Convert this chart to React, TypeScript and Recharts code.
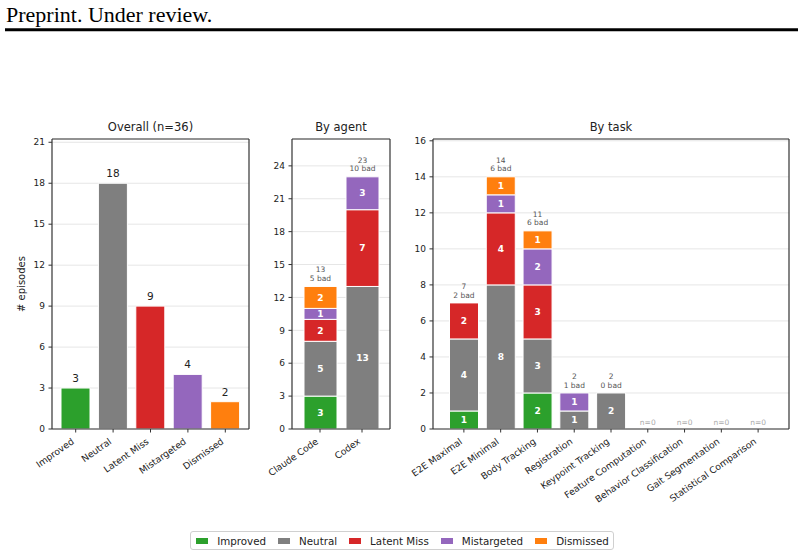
import React from 'react';
import { BarChart, Bar, XAxis, YAxis, CartesianGrid, LabelList, Cell, Legend } from 'recharts';

const FONT = '"DejaVu Sans", sans-serif';

const outcomes = ['Improved', 'Neutral', 'Latent Miss', 'Mistargeted', 'Dismissed'];
const outcomeKeys = ['improved', 'neutral', 'latent', 'mistargeted', 'dismissed'];
const outcomeColors = ['#2ca02c', '#7f7f7f', '#d62728', '#9467bd', '#ff7f0e'];

// overall counts, in outcome order
const overallCounts = [3, 18, 9, 4, 2];
const overallTicks = [0, 3, 6, 9, 12, 15, 18, 21];

const agents = ['Claude Code', 'Codex'];
const agentImproved = [3, 0];
const agentNeutral = [5, 13];
const agentLatent = [2, 7];
const agentMistargeted = [1, 3];
const agentDismissed = [2, 0];
const agentTicks = [0, 3, 6, 9, 12, 15, 18, 21, 24];

const tasks = [
  'E2E Maximal',
  'E2E Minimal',
  'Body Tracking',
  'Registration',
  'Keypoint Tracking',
  'Feature Computation',
  'Behavior Classification',
  'Gait Segmentation',
  'Statistical Comparison',
];
const taskImproved = [1, 0, 2, 0, 0, 0, 0, 0, 0];
const taskNeutral = [4, 8, 3, 1, 2, 0, 0, 0, 0];
const taskLatent = [2, 4, 3, 0, 0, 0, 0, 0, 0];
const taskMistargeted = [0, 1, 2, 1, 0, 0, 0, 0, 0];
const taskDismissed = [0, 1, 1, 0, 0, 0, 0, 0, 0];
const taskTicks = [0, 2, 4, 6, 8, 10, 12, 14, 16];

const overallRows = outcomes.map((name, i) => ({ name, value: overallCounts[i], total: overallCounts[i] }));

const buildRows = (names: string[], series: number[][]) =>
  names.map((name, i) => {
    const row: any = { name };
    outcomeKeys.forEach((k, j) => {
      row[k] = series[j][i];
    });
    row.total = series.reduce((s, arr) => s + arr[i], 0);
    row.bad = series[2][i] + series[3][i] + series[4][i];
    // topmost non-empty segment carries the total label
    row.topKey = [...outcomeKeys].reverse().find((k) => row[k] > 0) || '';
    return row;
  });

const agentRows = buildRows(agents, [agentImproved, agentNeutral, agentLatent, agentMistargeted, agentDismissed]);
const taskRows = buildRows(tasks, [taskImproved, taskNeutral, taskLatent, taskMistargeted, taskDismissed]);

const axisStroke = { stroke: '#333', strokeWidth: 1.2 };
const tickStroke = { stroke: '#333', strokeWidth: 1 };

const box = (props: any) => {
  const vb = props.viewBox && props.viewBox.x != null ? props.viewBox : props;
  return { x: Number(vb.x), y: Number(vb.y), width: Number(vb.width), height: Number(vb.height) };
};

const makeSlantTick = (rows: any[], showEmpty: boolean) => (props: any) => {
  const { x, y, payload } = props;
  const ax = Number(x) - 1;
  const ay = Number(y) + 8.5;
  const row = rows[payload.index];
  return (
    <g>
      {showEmpty && row && row.total === 0 && (
        <text x={Number(x)} y={Number(y) - 10} textAnchor="middle" fontSize={7.5} fill="#aaa" fontFamily={FONT}>
          n=0
        </text>
      )}
      <text
        x={ax}
        y={ay}
        transform={`rotate(-35, ${ax}, ${ay})`}
        textAnchor="end"
        fontSize={9.2}
        fill="#222"
        fontFamily={FONT}
      >
        {payload.value}
      </text>
    </g>
  );
};

const TotalLabel = (props: any) => {
  if (props.value == null || props.value === '') return null;
  const b = box(props);
  const cx = b.x + b.width / 2;
  const top = Math.min(b.y, b.y + b.height);
  const [total, bad] = String(props.value).split('|');
  return (
    <g fontSize={7.5} fill="#555" fontFamily={FONT} textAnchor="middle">
      <text x={cx} y={top - 14}>{total}</text>
      <text x={cx} y={top - 5.4}>{bad} bad</text>
    </g>
  );
};

const YTitle = (props: any) => {
  const vb = props.viewBox;
  const cx = vb.x + 21;
  const cy = vb.y + vb.height / 2;
  return (
    <text
      x={cx}
      y={cy}
      transform={`rotate(-90, ${cx}, ${cy})`}
      textAnchor="middle"
      dominantBaseline="central"
      fontSize={10}
      fill="#222"
      fontFamily={FONT}
    >
      # episodes
    </text>
  );
};

const LegendBox = () => (
  <div
    style={{
      position: 'absolute',
      left: -400,
      top: 421,
      width: 804,
      display: 'flex',
      justifyContent: 'center',
    }}
  >
    <div
      style={{
        display: 'flex',
        alignItems: 'center',
        height: 17,
        padding: '0 4px 0 5px',
        border: '1px solid #d0d0d0',
        borderRadius: 3,
        background: '#fff',
        fontFamily: FONT,
        fontSize: 10.3,
        color: '#222',
      }}
    >
      {outcomes.map((o, i) => (
        <div key={o} style={{ display: 'flex', alignItems: 'center', marginLeft: i ? 12 : 0 }}>
          <span style={{ width: 12, height: 6, background: outcomeColors[i], marginRight: 9 }} />
          <span>{o}</span>
        </div>
      ))}
    </div>
  </div>
);

const titleLabel = (title: string) => ({
  value: title,
  position: 'top' as const,
  offset: 7,
  fontSize: 11.5,
  fill: '#222',
  fontFamily: FONT,
});

type StackProps = {
  rows: any[];
  title: string;
  ticks: number[];
  domain: [number, number];
  left: number;
  width: number;
  yWidth: number;
  rightMargin: number;
  barSize: number;
  pad: number;
  legend?: boolean;
};

const StackPanel = ({ rows, title, ticks, domain, left, width, yWidth, rightMargin, barSize, pad, legend }: StackProps) => {
  const SlantTick = makeSlantTick(rows, true);
  return (
    <div style={{ position: 'absolute', left, top: 110 }}>
      <BarChart width={width} height={420} data={rows} margin={{ top: 28, right: rightMargin, bottom: 0, left: 0 }}>
        <CartesianGrid vertical={false} stroke="#e6e6e6" />
        <XAxis
          dataKey="name"
          interval={0}
          height={101}
          padding={{ left: pad, right: pad }}
          axisLine={axisStroke}
          tickLine={tickStroke}
          tickSize={3.5}
          tick={<SlantTick />}
        />
        <XAxis
          xAxisId="top"
          dataKey="name"
          orientation="top"
          height={1}
          tick={false}
          tickLine={false}
          axisLine={axisStroke}
          label={titleLabel(title)}
        />
        <YAxis
          width={yWidth}
          domain={domain}
          ticks={ticks}
          interval={0}
          axisLine={axisStroke}
          tickLine={tickStroke}
          tickSize={3.5}
          tickMargin={3.5}
          tick={{ fontSize: 9, fill: '#222', fontFamily: FONT }}
        />
        <YAxis yAxisId="right" orientation="right" width={1} domain={[0, 1]} tick={false} tickLine={false} axisLine={axisStroke} />
        {outcomeKeys.map((k, i) => (
          <Bar
            key={k}
            dataKey={k}
            name={outcomes[i]}
            stackId="s"
            fill={outcomeColors[i]}
            stroke="#fff"
            strokeWidth={1}
            barSize={barSize}
            isAnimationActive={false}
          >
            <LabelList
              dataKey={k}
              position="center"
              fill="#fff"
              fontSize={9}
              fontWeight="bold"
              fontFamily={FONT}
              formatter={(v: any) => (v ? v : '')}
            />
            <LabelList
              dataKey={(r: any) => (r.topKey === k ? `${r.total}|${r.bad}` : '')}
              content={<TotalLabel />}
            />
          </Bar>
        ))}
        {legend && (
          <Legend
            wrapperStyle={{ top: 0, left: 0, bottom: 'auto', width: 0, height: 0 }}
            content={() => <LegendBox />}
          />
        )}
      </BarChart>
    </div>
  );
};

const OverallTick = makeSlantTick(overallRows, false);

export default function App() {
  return (
    <div style={{ position: 'absolute', left: 0, top: 0, width: 804, height: 557, background: '#fff' }}>
      <svg width={804} height={40} style={{ position: 'absolute', left: 0, top: 0 }}>
        <text x={6} y={22} fontFamily='"Liberation Serif", serif' fontSize={22} fill="#000">
          Preprint. Under review.
        </text>
        <line x1={5} x2={798} y1={29.8} y2={29.8} stroke="#000" strokeWidth={3} />
      </svg>

      <div style={{ position: 'absolute', left: 0, top: 110 }}>
        <BarChart width={262} height={420} data={overallRows} margin={{ top: 28, right: 12, bottom: 0, left: 0 }}>
          <CartesianGrid vertical={false} stroke="#e6e6e6" />
          <XAxis
            dataKey="name"
            interval={0}
            height={101}
            padding={{ left: 5, right: 5 }}
            axisLine={axisStroke}
            tickLine={tickStroke}
            tickSize={3.5}
            tick={<OverallTick />}
          />
          <XAxis
            xAxisId="top"
            dataKey="name"
            orientation="top"
            height={1}
            tick={false}
            tickLine={false}
            axisLine={axisStroke}
            label={titleLabel('Overall (n=36)')}
          />
          <YAxis
            width={52}
            domain={[0, 21.24]}
            ticks={overallTicks}
            interval={0}
            axisLine={axisStroke}
            tickLine={tickStroke}
            tickSize={3.5}
            tickMargin={3.5}
            tick={{ fontSize: 9, fill: '#222', fontFamily: FONT }}
            label={YTitle}
          />
          <YAxis yAxisId="right" orientation="right" width={1} domain={[0, 1]} tick={false} tickLine={false} axisLine={axisStroke} />
          <Bar dataKey="value" barSize={29} stroke="#fff" strokeWidth={1} isAnimationActive={false}>
            {overallRows.map((r, i) => (
              <Cell key={r.name} fill={outcomeColors[i]} />
            ))}
            <LabelList dataKey="value" position="top" offset={6} fontSize={10.5} fill="#222" fontFamily={FONT} />
          </Bar>
        </BarChart>
      </div>

      <StackPanel
        rows={agentRows}
        title="By agent"
        ticks={agentTicks}
        domain={[0, 26.45]}
        left={258}
        width={142}
        yWidth={34}
        rightMargin={9}
        barSize={33}
        pad={7}
      />
      <StackPanel
        rows={taskRows}
        title="By task"
        ticks={taskTicks}
        domain={[0, 16.1]}
        left={400}
        width={400}
        yWidth={33}
        rightMargin={10}
        barSize={29}
        pad={12.5}
        legend
      />
    </div>
  );
}
